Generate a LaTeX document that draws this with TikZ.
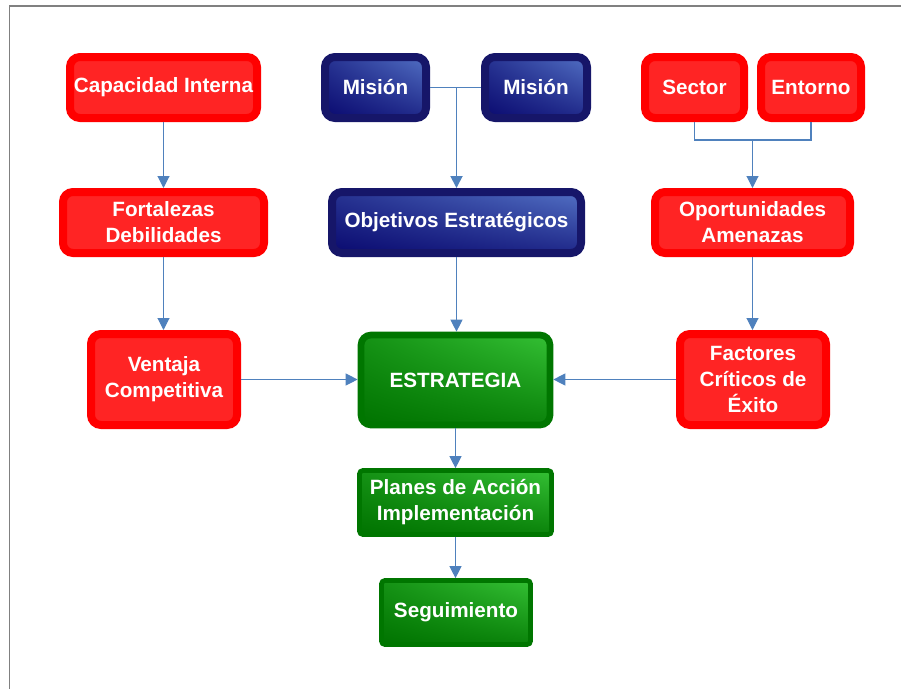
\documentclass[tikz,border=0pt]{standalone}
\usepackage{fontspec}
\setmainfont{Liberation Sans}
\usetikzlibrary{arrows.meta,shadings}

\definecolor{boxred}{RGB}{255,0,0}
\definecolor{boxredin}{RGB}{255,36,36}
\definecolor{navyrim}{RGB}{22,22,105}
\definecolor{navylo}{RGB}{10,10,112}
\definecolor{navyhi}{RGB}{82,112,196}
\definecolor{greenrim}{RGB}{0,118,0}
\definecolor{greenlo}{RGB}{0,115,0}
\definecolor{greenhi}{RGB}{52,192,52}
\definecolor{linkblue}{RGB}{79,129,189}
\definecolor{framegray}{RGB}{128,128,128}

\tikzset{
  redbox/.style={draw=boxred,fill=boxredin,line width=6pt,rounded corners=7.5pt,
    inner sep=0pt,align=center,text=white},
  bluebox/.style={draw=navyrim,line width=6pt,rounded corners=7.5pt,inner sep=0pt,
    align=center,text=white,shading=bilinear interpolation,
    lower left=navylo,lower right=navylo!70!navyhi,upper left=navylo!60!navyhi,upper right=navyhi},
  greenbox/.style={draw=greenrim,line width=5pt,rounded corners=7.5pt,inner sep=0pt,
    align=center,text=white,shading=bilinear interpolation,
    lower left=greenlo,lower right=greenlo!80!greenhi,upper left=greenlo!60!greenhi,upper right=greenhi},
  greenflat/.style={greenbox,line width=3.5pt,rounded corners=2.5pt},
  link/.style={draw=linkblue,line width=0.8pt},
  linkto/.style={link,-{Triangle[width=9pt,length=9pt]}}
}

\begin{document}
\begin{tikzpicture}[x=0.75pt,y=-0.75pt,font=\fontsize{15.5}{19.5}\selectfont\bfseries]
  \useasboundingbox (0,0) rectangle (901,689);
  \draw[framegray,line width=1.1pt] (9.5,689) |- (901,6);

  % left column
  \node[redbox,minimum width=140.25pt,minimum height=45.75pt] (cap) at (163.5,87.5) {Capacidad Interna};
  \node[redbox,minimum width=150.75pt,minimum height=45.75pt] (fort) at (163.5,222.5) {Fortalezas\\Debilidades};
  \node[redbox,minimum width=109.5pt,minimum height=68.25pt] (vent) at (164,379.5) {Ventaja\\Competitiva};

  % middle column
  \node[bluebox,minimum width=75.75pt,minimum height=45.75pt] (mis1) at (375.5,87.5) {Misión};
  \node[bluebox,minimum width=76.5pt,minimum height=45.75pt] (mis2) at (536,87.5) {Misión};
  \node[bluebox,minimum width=186.75pt,minimum height=45.75pt] (obj) at (456.5,222.5) {Objetivos Estratégicos};
  \node[greenbox,minimum width=141.75pt,minimum height=67.5pt] (estr) at (455.5,380) {ESTRATEGIA};
  \node[greenflat,minimum width=144pt,minimum height=48pt] (plan) at (455.5,502.5) {Planes de Acción\\Implementación};
  \node[greenflat,minimum width=111.75pt,minimum height=48pt] (seg) at (456,612.5) {Seguimiento};

  % right column
  \node[redbox,minimum width=74.25pt,minimum height=45.75pt] (sec) at (694.5,87.5) {Sector};
  \node[redbox,minimum width=75pt,minimum height=45.75pt] (ent) at (811,87.5) {Entorno};
  \node[redbox,minimum width=146.25pt,minimum height=45.75pt] (opo) at (752.5,222.5) {Oportunidades\\Amenazas};
  \node[redbox,minimum width=109.5pt,minimum height=68.25pt] (fac) at (753,379.5) {Factores\\Críticos de\\Éxito};

  % connectors
  \draw[linkto] (cap.south) -- (fort.north);
  \draw[linkto] (fort.south) -- (vent.north -| fort.south);
  \draw[linkto] (vent.east) -- (estr.west |- vent.east);

  \draw[link,line width=1.4pt] (mis1.east) -- (mis2.west);
  \coordinate (misjoin) at (mis1.east -| obj.north);
  \draw[linkto,line width=1.4pt] (misjoin) -- (obj.north);
  \draw[linkto] (obj.south) -- (estr.north -| obj.south);
  \draw[linkto] (estr.south) -- (plan.north);
  \draw[linkto] (plan.south) -- (seg.north -| plan.south);

  \coordinate (secjoin) at (752.5,140);
  \draw[link] (sec.south) |- (secjoin) -| (ent.south);
  \draw[linkto] (secjoin) -- (opo.north);
  \draw[linkto] (opo.south) -- (fac.north -| opo.south);
  \draw[linkto] (fac.west) -- (estr.east |- fac.west);
\end{tikzpicture}
\end{document}
